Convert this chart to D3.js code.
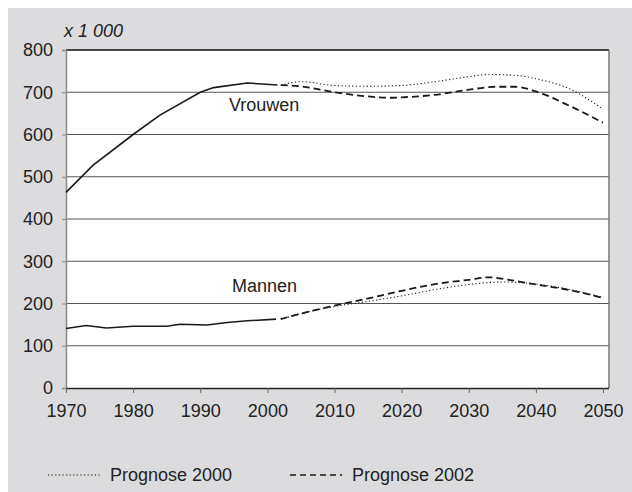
<!DOCTYPE html>
<html>
<head>
<meta charset="utf-8">
<script src="https://cdn.jsdelivr.net/npm/d3@7"></script>
<style>
  body { margin: 0; background: #fff; }
  svg { display: block; font-family: "Liberation Sans", Arial, sans-serif; }
</style>
</head>
<body>
<svg width="632" height="492"></svg>
<script>
// history (solid)
const vrouwenJaren = [1970, 1974, 1980, 1984, 1990, 1992, 1997, 2001.5];
const vrouwenWaarden = [463, 527, 600, 646, 700, 711, 722, 717];
const mannenJaren = [1970, 1973, 1976, 1980, 1985, 1987, 1991, 1994, 1997, 2001.3];
const mannenWaarden = [141, 148, 142, 146, 146, 151, 149, 155, 159, 163];

// Prognose 2000 (dotted)
const p2000VrouwenJaren = [2002, 2005, 2010, 2015, 2020, 2025, 2030, 2033, 2037, 2040, 2045, 2050];
const p2000Vrouwen = [717, 725, 716, 714, 716, 725, 737, 742, 740, 732, 708, 660];
const p2000MannenJaren = [2002, 2005, 2010, 2015, 2020, 2025, 2030, 2035, 2040, 2045, 2050];
const p2000Mannen = [163, 176, 193, 205, 218, 233, 245, 251, 246, 233, 214];

// Prognose 2002 (dashed)
const p2002VrouwenJaren = [2002, 2005, 2010, 2015, 2018, 2020, 2025, 2030, 2034, 2037, 2040, 2045, 2050];
const p2002Vrouwen = [717, 714, 700, 690, 687, 688, 694, 706, 713, 713, 702, 668, 628];
const p2002MannenJaren = [2002, 2005, 2010, 2015, 2020, 2025, 2030, 2033, 2036, 2040, 2045, 2050];
const p2002Mannen = [163, 176, 195, 212, 230, 246, 256, 262, 256, 245, 232, 213];

const xTicks = [1970, 1980, 1990, 2000, 2010, 2020, 2030, 2040, 2050];
const yTicks = [0, 100, 200, 300, 400, 500, 600, 700, 800];
const legendItems = ["Prognose 2000", "Prognose 2002"];

const svg = d3.select("svg");
const plotLeft = 66, plotRight = 609, plotTop = 50, plotBottom = 388;

// grey panel
svg.append("rect")
    .attr("x", 8).attr("y", 8)
    .attr("width", 624).attr("height", 484)
    .attr("fill", "#dcdcde");

svg.append("rect")
    .attr("x", plotLeft).attr("y", plotTop)
    .attr("width", plotRight - plotLeft).attr("height", plotBottom - plotTop)
    .attr("fill", "#fff");

const x = d3.scaleLinear().domain([1970, 2050]).range([plotLeft, 603]);
const y = d3.scaleLinear().domain([0, 800]).range([plotBottom, plotTop]);

// gridlines
svg.append("g")
    .selectAll("line")
    .data(yTicks.filter(d => d > 0))
    .enter().append("line")
    .attr("x1", plotLeft).attr("x2", plotRight)
    .attr("y1", d => y(d)).attr("y2", d => y(d))
    .attr("stroke", d => d === 800 ? "#111" : "#555")
    .attr("stroke-width", d => d === 800 ? 1.3 : 1);

// right border
svg.append("line")
    .attr("x1", plotRight).attr("x2", plotRight)
    .attr("y1", plotTop).attr("y2", plotBottom)
    .attr("stroke", "#777").attr("stroke-width", 1.5);

// y axis
const yAxis = svg.append("g")
    .attr("transform", `translate(${plotLeft},0)`)
    .call(d3.axisLeft(y).tickValues(yTicks).tickSize(4).tickPadding(9).tickFormat(d3.format("d")));
yAxis.select(".domain").attr("stroke", "#888").attr("stroke-width", 1.5);
yAxis.selectAll(".tick line").attr("stroke", "#888");
yAxis.selectAll("text").attr("font-size", 18).attr("fill", "#222")
    .style("font-family", "Liberation Sans, Arial, sans-serif");

// x axis
const xAxis = svg.append("g")
    .attr("transform", `translate(0,${plotBottom})`)
    .call(d3.axisBottom(x).tickValues(xTicks).tickSize(5).tickPadding(11).tickFormat(d3.format("d")));
xAxis.select(".domain").attr("d", `M${plotLeft},0.5H${plotRight}`).attr("stroke", "#222").attr("stroke-width", 1.3);
xAxis.selectAll(".tick line").attr("stroke", "#666");
xAxis.selectAll("text").attr("font-size", 18).attr("fill", "#222")
    .style("font-family", "Liberation Sans, Arial, sans-serif");

// unit label
svg.append("text")
    .attr("x", 64).attr("y", 37)
    .attr("font-size", 18).attr("font-style", "italic").attr("fill", "#222")
    .text("x 1 000");

const lineLinear = d3.line().x(d => x(d[0])).y(d => y(d[1]));
const lineSmooth = d3.line().x(d => x(d[0])).y(d => y(d[1])).curve(d3.curveMonotoneX);
const zip = (a, b) => a.map((v, i) => [v, b[i]]);

const series = [
    { pts: zip(p2000VrouwenJaren, p2000Vrouwen), gen: lineSmooth, dash: "1.2,2.4", w: 1.1 },
    { pts: zip(p2000MannenJaren, p2000Mannen), gen: lineSmooth, dash: "1.2,2.4", w: 1.1 },
    { pts: zip(p2002VrouwenJaren, p2002Vrouwen), gen: lineSmooth, dash: "7,4", w: 1.8 },
    { pts: zip(p2002MannenJaren, p2002Mannen), gen: lineSmooth, dash: "7,4", w: 1.8 },
    { pts: zip(vrouwenJaren, vrouwenWaarden), gen: lineLinear, dash: null, w: 1.6 },
    { pts: zip(mannenJaren, mannenWaarden), gen: lineLinear, dash: null, w: 1.6 }
];

svg.append("g")
    .selectAll("path")
    .data(series)
    .enter().append("path")
    .attr("d", d => d.gen(d.pts))
    .attr("fill", "none")
    .attr("stroke", "#1a1a1a")
    .attr("stroke-width", d => d.w)
    .attr("stroke-dasharray", d => d.dash);

// series labels
svg.append("text").attr("x", 229).attr("y", 111)
    .attr("font-size", 18).attr("fill", "#222").text("Vrouwen");
svg.append("text").attr("x", 232).attr("y", 292)
    .attr("font-size", 18).attr("fill", "#222").text("Mannen");

// legend
const legend = svg.append("g")
    .selectAll("g")
    .data(legendItems)
    .enter().append("g")
    .attr("transform", (d, i) => `translate(${48 + i * 242},475)`);
legend.append("line")
    .attr("x1", 0).attr("x2", 52)
    .attr("stroke", "#1a1a1a")
    .attr("stroke-width", (d, i) => i === 0 ? 1 : 1.5)
    .attr("stroke-dasharray", (d, i) => i === 0 ? "1.2,2.4" : "6,4");
legend.append("text")
    .attr("x", 62).attr("y", 6)
    .attr("font-size", 18).attr("fill", "#222")
    .text(d => d);
</script>
</body>
</html>
